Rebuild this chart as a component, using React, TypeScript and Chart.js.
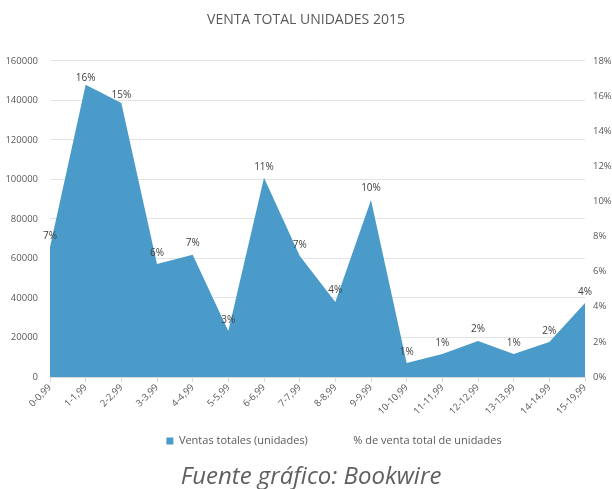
import React, { useEffect, useRef } from "react";
import { Chart, registerables } from "chart.js";

Chart.register(...registerables);

const categories = [
  "0-0,99", "1-1,99", "2-2,99", "3-3,99", "4-4,99", "5-5,99", "6-6,99", "7-7,99",
  "8-8,99", "9-9,99", "10-10,99", "11-11,99", "12-12,99", "13-13,99", "14-14,99", "15-19,99",
];
const salesUnits = [65800, 147900, 138700, 57200, 61800, 23300, 100800, 61300, 38000, 89600, 7100, 11700, 18200, 11700, 17700, 37500];
const salesPct = [7.4, 16.4, 15.4, 6.4, 7.0, 2.6, 11.3, 6.9, 4.3, 10.1, 0.8, 1.3, 2.1, 1.3, 2.0, 4.2];

const TITLE = "VENTA TOTAL UNIDADES 2015";
const SOURCE = "Fuente gráfico: Bookwire";
const FONT = "'Open Sans', 'Noto Sans', sans-serif";

const pctLabelPlugin = {
  id: "pctLabels",
  afterDatasetsDraw(chart: any) {
    const meta = chart.getDatasetMeta(1);
    const ctx = chart.ctx;
    ctx.save();
    ctx.font = `10px ${FONT}`;
    ctx.fillStyle = "#404040";
    ctx.textAlign = "center";
    ctx.textBaseline = "middle";
    meta.data.forEach((pt: any, i: number) => {
      ctx.fillText(Math.round(salesPct[i]) + "%", pt.x, pt.y - 11);
    });
    ctx.restore();
  },
};

const legendShiftPlugin = {
  id: "legendShift",
  afterLayout(chart: any) {
    const lg = chart.legend;
    if (lg) {
      lg.left += 28;
      lg.right += 28;
      lg.top -= 24.5;
      lg.bottom -= 24.5;
    }
  },
};

export default function App() {
  const ref = useRef<HTMLCanvasElement>(null);

  useEffect(() => {
    if (!ref.current) return;
    const chart = new Chart(ref.current, {
      type: "line",
      data: {
        labels: categories,
        datasets: [
          {
            label: "Ventas totales (unidades)",
            data: salesUnits,
            yAxisID: "y",
            fill: "origin",
            backgroundColor: "#4A9BCA",
            borderColor: "#4A9BCA",
            borderWidth: 0,
            pointRadius: 0,
            tension: 0,
          },
          {
            label: "% de venta total de unidades",
            data: salesPct,
            yAxisID: "y1",
            fill: false,
            backgroundColor: "rgba(0,0,0,0)",
            borderColor: "rgba(0,0,0,0)",
            borderWidth: 0,
            pointRadius: 0,
          },
        ],
      },
      options: {
        responsive: false,
        animation: false,
        layout: { padding: { left: 0, right: 0, top: 0, bottom: 8 } },
        plugins: {
          title: {
            display: true,
            text: TITLE,
            color: "#595959",
            font: { family: FONT, size: 14, weight: "normal" },
            padding: { top: 12, bottom: 32 },
          },
          legend: {
            display: true,
            position: "bottom",
            labels: {
              boxWidth: 7,
              boxHeight: 7,
              padding: 33,
              color: "#595959",
              font: { family: FONT, size: 11 },
            },
          },
          tooltip: { enabled: false },
        },
        scales: {
          x: {
            offset: false,
            grid: { display: true, drawOnChartArea: false, drawTicks: true, tickLength: 5, color: "#d9d9d9" },
            border: { display: true, color: "#d9d9d9" },
            ticks: {
              autoSkip: false,
              maxRotation: 45,
              minRotation: 45,
              color: "#595959",
              font: { family: FONT, size: 9.5 },
              padding: 0,
            },
            afterFit(scale: any) {
              scale.height = 50;
            },
          },
          y: {
            position: "left",
            min: 0,
            max: 160000,
            grid: { color: "#e3e3e3", drawTicks: false },
            border: { display: false },
            ticks: {
              stepSize: 20000,
              color: "#595959",
              font: { family: FONT, size: 9.5 },
              padding: 12,
              callback: (v: any) => String(v),
            },
            afterFit(scale: any) {
              scale.width = 50;
            },
          },
          y1: {
            position: "right",
            min: 0,
            max: 18,
            grid: { drawOnChartArea: false, drawTicks: false },
            border: { display: false },
            ticks: {
              stepSize: 2,
              color: "#595959",
              font: { family: FONT, size: 9.5 },
              padding: 8,
              callback: (v: any) => v + "%",
            },
            afterFit(scale: any) {
              scale.width = 27;
            },
          },
        },
      },
      plugins: [pctLabelPlugin, legendShiftPlugin],
    } as any);
    return () => chart.destroy();
  }, []);

  return (
    <div style={{ position: "absolute", left: 0, top: 0, width: 612, height: 489, background: "#fff", overflow: "hidden" }}>
      <canvas ref={ref} width={612} height={489} style={{ display: "block" }} />
      <div
        style={{
          position: "absolute",
          left: 0,
          width: 612,
          top: 459,
          textAlign: "center",
          paddingLeft: 10,
          boxSizing: "border-box",
          fontFamily: FONT,
          fontStyle: "italic",
          fontSize: 24,
          lineHeight: "32px",
          color: "#606060",
        }}
      >
        {SOURCE}
      </div>
    </div>
  );
}
